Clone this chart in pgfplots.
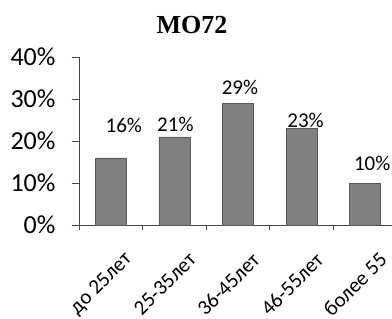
\documentclass[border=0pt]{standalone}
\usepackage{fontspec}
\setmainfont{Carlito}
\newfontfamily\titlefont{Liberation Serif}
\usepackage{pgfplots}
\usepackage{pgfplotstable}
\pgfplotsset{compat=1.18}
\definecolor{barfill}{RGB}{128,128,128}
\definecolor{bardraw}{RGB}{90,90,90}
\definecolor{axisgray}{RGB}{70,70,70}
\pgfplotstableread{
x y xoff yoff
0 16 13 32
1 21 1 12
2 29 2 16
3 23 4 8
4 10 7 20
}\datatable
\begin{document}
\begin{tikzpicture}
\begin{axis}[
  at={(0pt,0pt)}, anchor=south west,
  scale only axis,
  width=318pt, height=168pt,
  xmin=-0.5, xmax=4.5,
  ymin=0, ymax=40,
  axis x line*=bottom, axis y line*=left,
  axis line style={axisgray, line width=0.8pt},
  xtick={0,1,2,3,4},
  xticklabels={до 25лет,25-35лет,36-45лет,46-55лет,более 55},
  major x tick style={draw=none},
  minor xtick={-0.5,0.5,1.5,2.5,3.5},
  minor x tick style={axisgray, line width=0.8pt},
  minor tick length=5pt,
  tick align=outside,
  ytick={0,10,20,30,40},
  major tick length=7pt,
  y tick style={axisgray, line width=0.8pt},
  yticklabel={\pgfmathprintnumber{\tick}\%},
  /pgf/number format/assume math mode=true,
  yticklabel style={font=\fontsize{26}{28}\selectfont, xshift=-13pt},
  xticklabel style={font=\fontsize{21}{23}\selectfont, rotate=45, anchor=east, yshift=-30pt, xshift=-1pt},
  ybar, bar width=31pt,
  nodes near coords={\pgfmathprintnumber{\pgfplotspointmeta}\%},
  visualization depends on={\thisrow{xoff} \as \xoff},
  visualization depends on={\thisrow{yoff} \as \yoff},
  every node near coord/.append style={font=\fontsize{21}{23}\selectfont, anchor=center, xshift=\xoff pt, yshift=\yoff pt, /pgf/number format/assume math mode=true},
  clip=false,
]
\addplot[fill=barfill, draw=bardraw, line width=0.6pt] table[x=x, y=y] {\datatable};
\end{axis}
\node[font=\titlefont\bfseries\fontsize{26}{28}\selectfont, anchor=base] at (113pt,191pt) {MO72};
\pgfresetboundingbox
\useasboundingbox (-79pt,-94pt) rectangle (313pt,225pt);
\end{tikzpicture}
\end{document}
